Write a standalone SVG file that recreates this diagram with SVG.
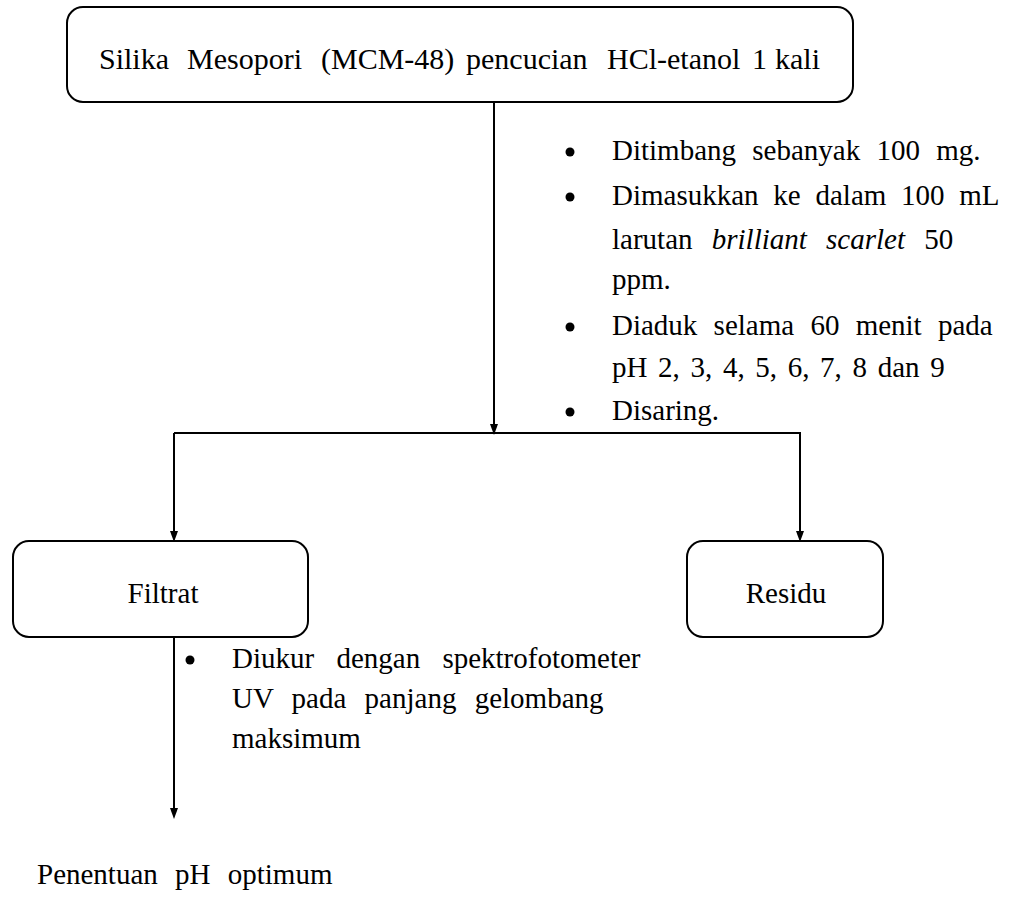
<svg xmlns="http://www.w3.org/2000/svg" width="1009" height="913" viewBox="0 0 1009 913">
<defs>
<marker id="arr" viewBox="0 0 8 12" refX="8" refY="4" markerWidth="8" markerHeight="12" markerUnits="userSpaceOnUse" orient="auto" overflow="visible">
<path d="M0,0 L11,4 L0,8 Z" fill="#000"/>
</marker>
</defs>
<style>
.box{fill:#fff;stroke:#000;stroke-width:2}
.ln{fill:none;stroke:#000;stroke-width:2}
.t{font-family:"Liberation Serif","Times New Roman",serif;font-size:29px;fill:#000}
.big{font-size:30px}
.c{text-anchor:middle}
.i{font-style:italic}
</style>
<rect width="1009" height="913" fill="#fff"/>
<g id="connectors">
<line class="ln" x1="494" y1="102" x2="494" y2="432" marker-end="url(#arr)"/>
<line class="ln" x1="174" y1="433" x2="801" y2="433"/>
<line class="ln" x1="174" y1="433" x2="174" y2="539" marker-end="url(#arr)"/>
<line class="ln" x1="800" y1="433" x2="800" y2="539" marker-end="url(#arr)"/>
<line class="ln" x1="174" y1="638" x2="174" y2="816" marker-end="url(#arr)"/>
</g>
<g id="n-silika">
<rect class="box" x="67" y="7" width="786" height="95" rx="16"/>
<text class="t big" y="69"><tspan x="99">Silika</tspan><tspan x="187">Mesopori</tspan><tspan x="321">(MCM-48)</tspan><tspan x="466">pencucian</tspan><tspan x="607">HCl-etanol</tspan><tspan x="752">1</tspan><tspan x="775">kali</tspan></text>
</g>
<g id="steps1">
<circle cx="570" cy="152" r="4.5"/>
<text class="t" x="612" y="160" word-spacing="9">Ditimbang sebanyak 100 mg.</text>
<circle cx="570" cy="197" r="4.5"/>
<text class="t" x="612" y="205" word-spacing="7.5">Dimasukkan ke dalam 100 mL</text>
<text class="t" x="612" y="249" word-spacing="12">larutan <tspan class="i">brilliant scarlet</tspan> 50</text>
<text class="t" x="612" y="289">ppm.</text>
<circle cx="570" cy="327" r="4.5"/>
<text class="t" x="612" y="335" word-spacing="9">Diaduk selama 60 menit pada</text>
<text class="t" x="612" y="377" word-spacing="3.4">pH 2, 3, 4, 5, 6, 7, 8 dan 9</text>
<circle cx="570" cy="412" r="4.5"/>
<text class="t" x="612" y="420">Disaring.</text>
</g>
<g id="n-filtrat">
<rect class="box" x="13" y="541" width="295" height="96" rx="16"/>
<text class="t c" x="163" y="603">Filtrat</text>
</g>
<g id="n-residu">
<rect class="box" x="687" y="541" width="196" height="96" rx="16"/>
<text class="t c" x="786" y="603">Residu</text>
</g>
<g id="steps2">
<circle cx="190" cy="660" r="4.5"/>
<text class="t" x="232" y="668" word-spacing="15">Diukur dengan spektrofotometer</text>
<text class="t" x="232" y="708" word-spacing="11">UV pada panjang gelombang</text>
<text class="t" x="232" y="748">maksimum</text>
</g>
<g id="n-penentuan">
<text class="t" x="37" y="884" word-spacing="10">Penentuan pH optimum</text>
</g>
</svg>
